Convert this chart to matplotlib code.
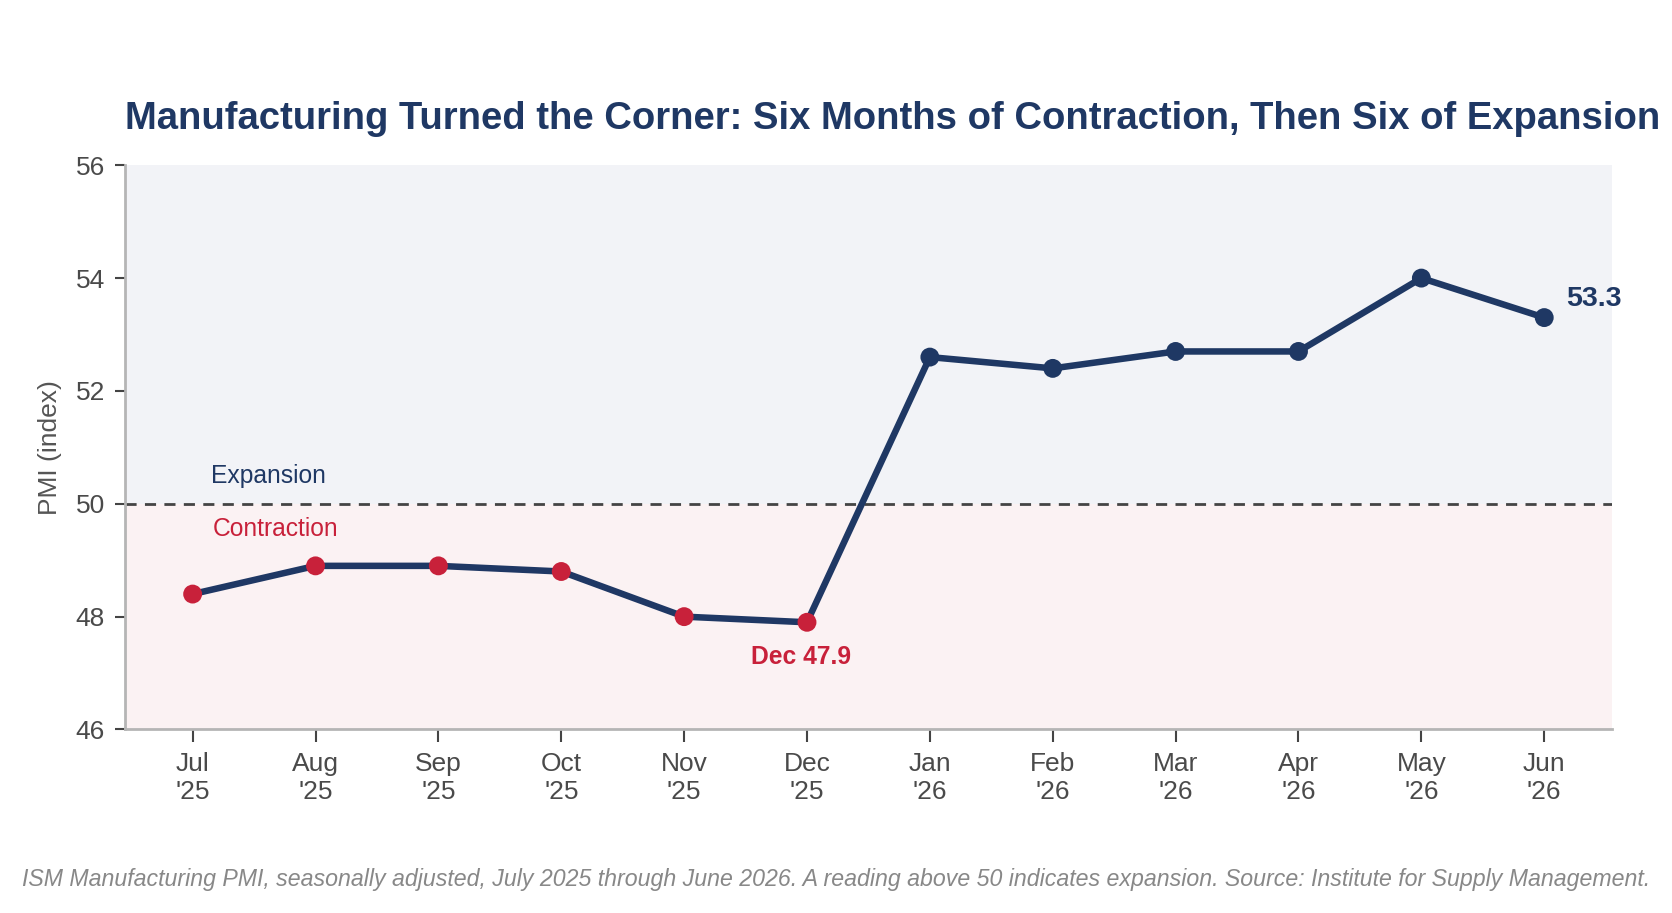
import numpy as np
import matplotlib
matplotlib.use('Agg')
from matplotlib import pyplot as plt

plt.rcParams['font.family'] = ['Liberation Sans', 'DejaVu Sans']

months = ["Jul\n'25", "Aug\n'25", "Sep\n'25", "Oct\n'25", "Nov\n'25", "Dec\n'25",
          "Jan\n'26", "Feb\n'26", "Mar\n'26", "Apr\n'26", "May\n'26", "Jun\n'26"]
pmi = [48.4, 48.9, 48.9, 48.8, 48.0, 47.9, 52.6, 52.4, 52.7, 52.7, 54.0, 53.3]
yticks = [46, 48, 50, 52, 54, 56]
threshold = 50

navy = '#1f3864'
red = '#c8213a'
grey = '#444444'

fig = plt.figure(figsize=(16.72, 9.13), dpi=100)
ax = fig.add_axes([0.0748, 0.201, 0.8892, 0.618])

x = np.arange(len(pmi))
ax.set_xlim(-0.55, len(pmi) - 1 + 0.55)
ax.set_ylim(46, 56)

ax.axhspan(threshold, 56, color='#f2f3f7', zorder=0, lw=0)
ax.axhspan(46, threshold, color='#fbf2f3', zorder=0, lw=0)
ax.axhline(threshold, color=grey, lw=2, ls=(0, (4, 3)), zorder=1)

ax.plot(x, pmi, '-', color=navy, lw=4.7, zorder=2, solid_capstyle='round')
cols = [red if v < threshold else navy for v in pmi]
ax.scatter(x, pmi, s=185, c=cols, zorder=3, lw=0)

ax.text(0.15, 50.5, 'Expansion', color=navy, fontsize=17.7, va='center', ha='left')
ax.text(0.16, 49.55, 'Contraction', color=red, fontsize=17.7, va='center', ha='left')
imin = int(np.argmin(pmi))
ax.text(x[imin] - 0.05, pmi[imin] - 0.62, 'Dec {:.1f}'.format(pmi[imin]), color=red,
        fontsize=17.7, fontweight='bold', ha='center', va='center')
ax.text(x[-1] + 0.18, pmi[-1] + 0.33, '{:.1f}'.format(pmi[-1]), color=navy,
        fontsize=20.5, fontweight='bold', ha='left', va='center')

ax.set_xticks(x)
ax.set_xticklabels(months)
ax.set_yticks(yticks)
ax.tick_params(axis='both', labelsize=19, colors=grey, labelcolor='#4a4a4a',
               length=7, width=1.5, direction='out')
ax.tick_params(axis='x', length=9, pad=7)
ax.tick_params(axis='y', pad=7.5)
ax.set_ylabel('PMI (index)', fontsize=19, color='#555555', labelpad=10)

for s in ['top', 'right']:
    ax.spines[s].set_visible(False)
for s in ['left', 'bottom']:
    ax.spines[s].set_color('#b5b5b5')
    ax.spines[s].set_linewidth(2)

ax.set_title('Manufacturing Turned the Corner: Six Months of Contraction, Then Six of Expansion',
             loc='left', fontsize=27.5, fontweight='bold', color=navy, pad=26)

fig.text(0.5, 0.037, 'ISM Manufacturing PMI, seasonally adjusted, July 2025 through June 2026. '
         'A reading above 50 indicates expansion. Source: Institute for Supply Management.',
         ha='center', va='center', fontsize=16.65, style='italic', color='#888888')

fig.savefig('out.png', dpi=100)
